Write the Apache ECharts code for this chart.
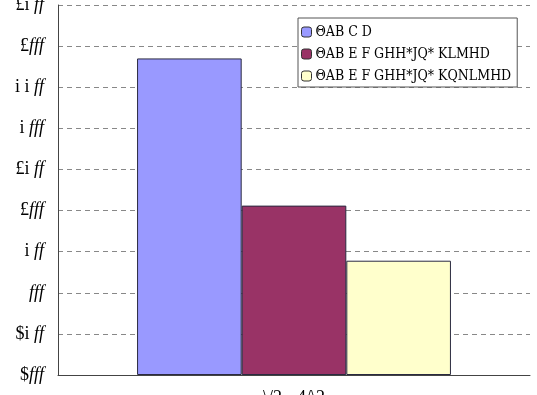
<!DOCTYPE html>
<html><head><meta charset="utf-8">
<script src="https://cdn.jsdelivr.net/npm/echarts@6/dist/echarts.min.js"></script>
<style>html,body{margin:0;padding:0;background:#fff}#c{width:537px;height:395px}</style>
</head><body><div id="c"></div>
<script>
const categories = ["\\/2 - 4/\\2"];
const seriesNames = ["ΘAB C D", "ΘAB E F GHH*JQ* KLMHD", "ΘAB E F GHH*JQ* KQNLMHD"];
const seriesA = [3850];
const seriesB = [2060];
const seriesC = [1390];
const tickValues = [0, 500, 1000, 1500, 2000, 2500, 3000, 3500, 4000, 4500];
const tickLabels = ["$fff", "$i ff", "fff", "i ff", "£fff", "£i ff", "i fff", "i i ff", "£fff", "£i ff"];

const colors = ['#9999FF', '#993366', '#FFFFCC'];
const chart = echarts.init(document.getElementById('c'));
const font = '"Liberation Serif", "DejaVu Serif", serif';
const condFont = '"DejaVu Serif Condensed", "Liberation Serif", serif';
function rich(s){ return s.replace(/f/g, '{i|f}'); }
const mk = (name, data, i) => ({
  name, type: 'bar', data, barGap: '0%', barCategoryGap: '33.5%',
  itemStyle: { color: colors[i], borderColor: '#2a2a40', borderWidth: 1 }
});
chart.setOption({
  animation: false,
  grid: { left: 58, right: 7, top: 5, bottom: 20, containLabel: false, outerBoundsMode: 'none' },
  legend: {
    orient: 'vertical', left: 298, top: 18, width: 221,
    data: seriesNames, itemWidth: 10, itemHeight: 10, itemGap: 8, padding: [7, 6, 4, 3],
    backgroundColor: '#fff', borderColor: '#555', borderWidth: 1,
    textStyle: { fontFamily: condFont, fontSize: 14, color: '#000', padding: [0,0,0,-1] },
    itemStyle: { borderColor: '#333', borderWidth: 1 }
  },
  xAxis: {
    type: 'category', data: categories,
    axisLine: { lineStyle: { color: '#444', width: 1 } },
    axisTick: { inside: true, length: 5, lineStyle: { color: '#444' } },
    axisLabel: { fontFamily: font, fontSize: 18, color: '#000', margin: 14 }
  },
  yAxis: {
    type: 'value', min: 0, max: 4500, interval: 500,
    axisLine: { show: true, lineStyle: { color: '#444', width: 1 } },
    axisTick: { show: false },
    splitLine: { lineStyle: { color: '#888', type: [5, 4], width: 1 } },
    axisLabel: {
      margin: 14, color: '#000',
      formatter: v => rich(tickLabels[tickValues.indexOf(v)]),
      fontFamily: font, fontSize: 18,
      rich: { i: { fontFamily: font, fontSize: 18, fontStyle: 'italic', color: '#000' } }
    }
  },
  series: [mk(seriesNames[0], seriesA, 0), mk(seriesNames[1], seriesB, 1), mk(seriesNames[2], seriesC, 2)]
});
</script></body></html>
